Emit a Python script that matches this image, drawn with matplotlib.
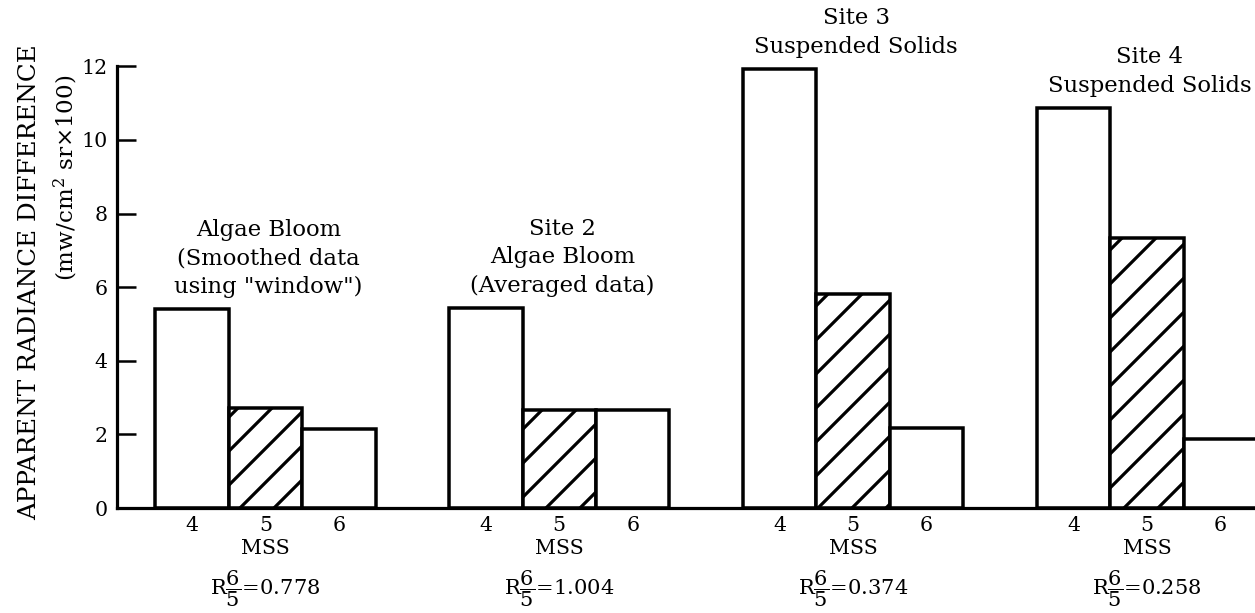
import numpy as np
import matplotlib
matplotlib.use('Agg')
import matplotlib.pyplot as plt

# values
groups = ['Algae Bloom\n(Smoothed data\nusing "window")',
          'Site 2\nAlgae Bloom\n(Averaged data)',
          'Site 3\nSuspended Solids',
          'Site 4\nSuspended Solids']
bands = ['4', '5', '6']
band4 = [5.40, 5.43, 11.93, 10.87]
band5 = [2.72, 2.66, 5.82, 7.34]
band6 = [2.15, 2.66, 2.17, 1.88]
ratios = ['0.778', '1.004', '0.374', '0.258']
y_ticks = [0, 2, 4, 6, 8, 10, 12]

# dpi chosen so that the '//' hatch spacing matches the scan
DPI = 204


def pt(px):
    # pixel size -> points at this dpi
    return px * 72.0 / DPI


plt.rcParams['font.family'] = 'DejaVu Serif'
plt.rcParams['mathtext.fontset'] = 'dejavuserif'
plt.rcParams['hatch.linewidth'] = pt(3.2)

fig = plt.figure(figsize=(1255 / DPI, 613 / DPI), dpi=DPI)
ax = fig.add_axes([117 / 1255, 105 / 613, 1 - 117 / 1255, 1 - 105 / 613])

step = len(bands) + 1
centers = np.arange(len(groups)) * step + 1
values = np.array([band4, band5, band6])
hatches = [None, '//', None]

for i in range(len(bands)):
    ax.bar(centers + i - 1, values[i], width=1.0, color='white',
           edgecolor='black', linewidth=pt(3.5), hatch=hatches[i], zorder=2)

ax.set_xlim(-1.02, 14.47)
ax.set_ylim(0, 13.8)

for s in ['top', 'right']:
    ax.spines[s].set_visible(False)
ax.spines['left'].set_bounds(0, 12)
ax.spines['left'].set_linewidth(pt(3.2))
ax.spines['bottom'].set_linewidth(pt(3.2))

ax.set_yticks(y_ticks)
ax.tick_params(axis='y', direction='in', length=pt(19), width=pt(2.5),
               pad=pt(9.5), labelsize=pt(20.5))
xpos = np.concatenate([centers + i - 1 for i in range(len(bands))])
xlab = [b for b in bands for _ in groups]
ax.set_xticks(xpos)
ax.set_xticklabels(xlab)
ax.tick_params(axis='x', length=0, pad=pt(8), labelsize=pt(20.5))

for c, name, top, r in zip(centers, groups, values.max(axis=0), ratios):
    ax.text(c + 0.04, top + 0.3, name, ha='center', va='bottom',
            fontsize=pt(22.8), linespacing=1.38)
    ax.text(c, -1.09, 'MSS', ha='center', va='center', fontsize=pt(20.5),
            clip_on=False)
    ax.text(c, -2.2, r'R$\dfrac{6}{5}$=' + r, ha='center', va='center',
            fontsize=pt(21), clip_on=False)

fig.text(30 / 1255, 1 - 282 / 613, 'APPARENT RADIANCE DIFFERENCE',
         rotation=90, ha='center', va='center', fontsize=pt(24.7))
fig.text(66 / 1255, 1 - 178 / 613, r'(mw/cm$^2$ sr$\times$100)',
         rotation=90, ha='center', va='center', fontsize=pt(23))

fig.savefig('out.png', dpi=DPI)
